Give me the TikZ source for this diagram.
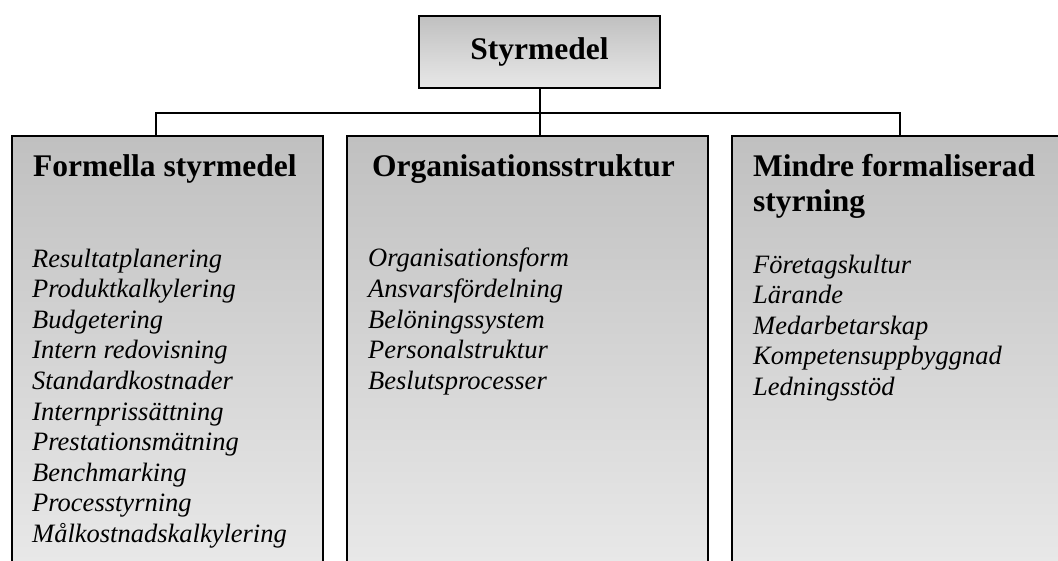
\documentclass[tikz,border=0pt]{standalone}
\usepackage{fontspec}
\setmainfont{Liberation Serif}
\definecolor{gtop}{HTML}{C0C0C0}
\definecolor{gbot}{HTML}{E8E8E8}
\begin{document}
\begin{tikzpicture}[x=1pt,y=-1pt,
  boxline/.style={line width=2pt,line cap=rect},
  topbox/.style={rectangle,draw,line width=2pt,top color=gtop,bottom color=gbot,
     minimum width=241pt,minimum height=72pt,inner sep=0pt,
     font=\fontsize{31.5}{36}\selectfont\bfseries},
  colbox/.style={rectangle,top color=gtop,bottom color=gbot,inner sep=0pt,anchor=north west},
  hdr/.style={inner sep=0pt,anchor=base west,align=left,font=\fontsize{31.5}{35}\selectfont\bfseries},
  lst/.style={inner sep=0pt,anchor=base west,align=left,font=\fontsize{26.5}{30.6}\selectfont\itshape},
  conn/.style={line width=2pt}]
\useasboundingbox (0,0) rectangle (1058,561);
% column boxes
\node[colbox,minimum width=311pt,minimum height=426pt] (c1) at (12,136) {};
\node[colbox,minimum width=361pt,minimum height=426pt] (c2) at (347,136) {};
\node[colbox,minimum width=327pt,minimum height=426pt] (c3) at (732,136) {};
\draw[boxline] (c1.south west) -- (c1.north west) -- (c1.north east) -- (c1.south east);
\draw[boxline] (c2.south west) -- (c2.north west) -- (c2.north east) -- (c2.south east);
\draw[boxline] (c3.south west) -- (c3.north west) -- (c3.north east);
% top box
\node[topbox] (top) at (539.5,52) {Styrmedel};
% connectors
\coordinate (j1) at (156,113);
\coordinate (j3) at (900,113);
\draw[conn] (top.south) -- (top.south |- c2.north);
\draw[conn] (j1 |- c1.north) -- (j1) -- (j3) -- (j3 |- c3.north);
% headers (anchor = baseline of last line)
\node[hdr] (h1) at (33,177) {Formella styrmedel};
\node[hdr] (h2) at (372,177) {Organisationsstruktur};
\node[hdr] (h3) at (753,212) {Mindre formaliserad\\styrning};
% lists (anchor = baseline of last line)
\node[lst] (l1) at (32,542.4) {Resultatplanering\\Produktkalkylering\\Budgetering\\Intern redovisning\\Standardkostnader\\Internprissättning\\Prestationsmätning\\Benchmarking\\Processtyrning\\Målkostnadskalkylering};
\node[lst] (l2) at (368,389.4) {Organisationsform\\Ansvarsfördelning\\Belöningssystem\\Personalstruktur\\Beslutsprocesser};
\node[lst] (l3) at (753,395.4) {Företagskultur\\Lärande\\Medarbetarskap\\Kompetensuppbyggnad\\Ledningsstöd};
\end{tikzpicture}
\end{document}
